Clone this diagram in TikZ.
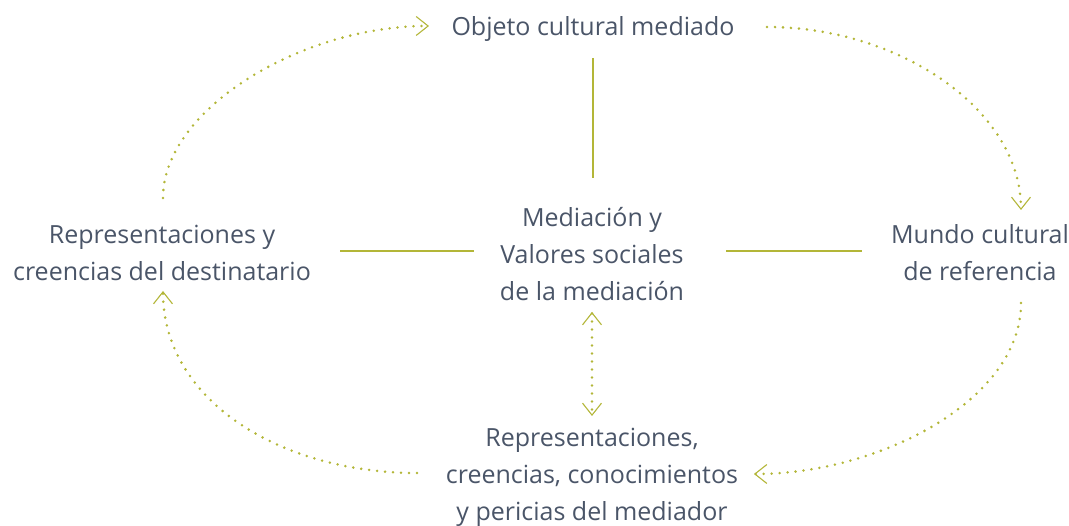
\documentclass[tikz,border=0pt]{standalone}
\usepackage{fontspec}
\setmainfont{Open Sans}
\usetikzlibrary{arrows.meta}
\definecolor{olive}{HTML}{B3B638}
\definecolor{txt}{HTML}{4A5568}
\tikzset{
  lab/.style={text=txt, font=\fontsize{25}{37}\selectfont, align=center, inner sep=0pt},
  solidline/.style={draw=olive, line width=1.2pt},
  dotline/.style={draw=olive, line width=2.8pt, line cap=round, dash pattern=on 0pt off 8pt},
  arrowtip/.style={-{Straight Barb[length=12pt,width=19pt,line width=1.1pt]}},
  arrowboth/.style={{Straight Barb[length=12pt,width=19pt,line width=1.1pt]}-{Straight Barb[length=12pt,width=19pt,line width=1.1pt]}}
}
\begin{document}
\begin{tikzpicture}[x=1pt,y=-1pt]
\useasboundingbox (0,0) rectangle (1069,526);
\node[lab] (top) at (593,29) {Objeto cultural mediado};
\node[lab] (cen) at (592,254) {Mediación y\\Valores sociales\\de la mediación};
\node[lab] (lft) at (162,253) {Representaciones y\\creencias del destinatario};
\node[lab] (rgt) at (980,253) {Mundo cultural\\de referencia};
\node[lab] (bot) at (592,477.5) {Representaciones,\\creencias, conocimientos\\y pericias del mediador};
% solid connectors
\coordinate (v1) at (593,58);  \coordinate (v2) at (593,178);
\coordinate (l1) at (340,251); \coordinate (l2) at (474,251);
\coordinate (r1) at (726,251); \coordinate (r2) at (862,251);
\draw[solidline] (v1) -- (v2);
\draw[solidline] (l1) -- (l2);
\draw[solidline] (r1) -- (r2);
% dotted arrows
\coordinate (a1s) at (163,198); \coordinate (a1e) at (429,26);
\coordinate (a2s) at (767,27);  \coordinate (a2e) at (1021,210);
\coordinate (a3s) at (1021,303); \coordinate (a3e) at (754,474);
\coordinate (a4s) at (417,473); \coordinate (a4e) at (163,291);
\coordinate (a5s) at (592,312); \coordinate (a5e) at (592,416);
\draw[dotline,arrowtip] (a1s) .. controls (163,110) and (300,26) .. (a1e);
\draw[dotline,arrowtip] (a2s) .. controls (900,27) and (1021,110) .. (a2e);
\draw[dotline,arrowtip] (a3s) .. controls (1021,400) and (880,474) .. (a3e);
\draw[dotline,arrowtip] (a4s) .. controls (280,473) and (163,400) .. (a4e);
\draw[dotline,arrowboth] (a5s) -- (a5e);
\end{tikzpicture}
\end{document}
